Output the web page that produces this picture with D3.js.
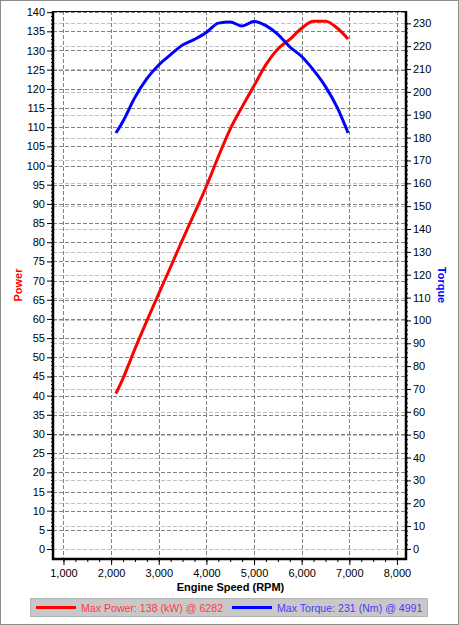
<!DOCTYPE html>
<html><head><meta charset="utf-8">
<script src="https://cdn.jsdelivr.net/npm/d3@7"></script>
<style>
html,body{margin:0;padding:0;background:#fff;}
svg{display:block;}
text{font-family:"Liberation Sans",Arial,sans-serif;}
</style></head>
<body>
<script>
// ---- data ----
const rpm = [2100, 2250, 2500, 2750, 3000, 3250, 3500, 3750, 4000, 4250, 4500, 4750, 5000, 5250, 5500, 5750, 6000, 6250, 6500, 6750, 6975];
const power = [40.5, 44.5, 52.2, 59.5, 66.6, 73.6, 80.7, 87.6, 94.6, 102.3, 109.5, 115.3, 120.8, 126.3, 130.4, 132.9, 135.8, 137.6, 137.6, 135.8, 133.0];
const torque = [182.0, 187.2, 197.6, 205.8, 211.8, 216.3, 220.5, 223.0, 226.0, 230.1, 230.6, 228.8, 230.8, 229.0, 225.2, 219.7, 215.5, 209.5, 202.3, 193.0, 182.0];
const xTicks = [1000, 2000, 3000, 4000, 5000, 6000, 7000, 8000];
const powerTicks = d3.range(0, 141, 5);
const torqueTicks = d3.range(0, 231, 10);
const xTitle = "Engine Speed (RPM)";
const yLeftTitle = "Power";
const yRightTitle = "Torque";
const legendItems = ["Max Power: 138 (kW) @ 6282", "Max Torque: 231 (Nm) @ 4991"];

const W = 459, H = 625;
const L = 53, R = 406, T = 11, B = 559;

const svg = d3.select("body").append("svg").attr("width", W).attr("height", H);
svg.append("rect").attr("x",0.5).attr("y",0.5).attr("width",W-1).attr("height",H-1)
  .attr("fill","#fff").attr("stroke","#8c8c8c");

const x = d3.scaleLinear().domain([780, 8190]).range([L, R]);
const yP = d3.scaleLinear().domain([-2.6, 140.3]).range([B, T]);
const yT = d3.scaleLinear().domain([-4.4, 235.4]).range([B, T]);

const grid = svg.append("g");
// left gridlines (dark)
grid.selectAll("line.gp").data(powerTicks).join("line")
  .attr("x1", L).attr("x2", R).attr("y1", d => Math.round(yP(d))+0.5).attr("y2", d => Math.round(yP(d))+0.5)
  .attr("stroke","#808080").attr("stroke-dasharray","4,2");
// right gridlines (light)
grid.selectAll("line.gt").data(torqueTicks).join("line")
  .attr("x1", L).attr("x2", R).attr("y1", d => Math.round(yT(d))+0.5).attr("y2", d => Math.round(yT(d))+0.5)
  .attr("stroke","#c0c0c0").attr("stroke-dasharray","4,2");
// vertical gridlines
grid.selectAll("line.gx").data(xTicks).join("line")
  .attr("y1", T).attr("y2", B).attr("x1", d => Math.round(x(d))+0.5).attr("x2", d => Math.round(x(d))+0.5)
  .attr("stroke","#808080").attr("stroke-dasharray","4,2");

// curves
const linePow = d3.line().x((d,i) => x(rpm[i])).y(d => yP(d)).curve(d3.curveMonotoneX);
const lineTor = d3.line().x((d,i) => x(rpm[i])).y(d => yT(d)).curve(d3.curveMonotoneX);
svg.append("path").attr("d", linePow(power)).attr("fill","none").attr("stroke","#ff0000").attr("stroke-width",3).attr("stroke-linejoin","round");
svg.append("path").attr("d", lineTor(torque)).attr("fill","none").attr("stroke","#0000ff").attr("stroke-width",3).attr("stroke-linejoin","round");

// frame
svg.append("line").attr("x1",L).attr("x2",R).attr("y1",T+0.5).attr("y2",T+0.5).attr("stroke","#000");

// axes
const fmt = d3.format(",");
const gx = svg.append("g").attr("transform",`translate(0,${B})`)
  .call(d3.axisBottom(x).tickValues(xTicks).tickFormat(fmt).tickSize(6).tickPadding(4));
const gxm = svg.append("g").attr("transform",`translate(0,${B})`)
  .call(d3.axisBottom(x).tickValues(d3.range(1000, 8001, 250)).tickFormat("").tickSize(3));
const gl = svg.append("g").attr("transform",`translate(${L},0)`)
  .call(d3.axisLeft(yP).tickValues(powerTicks).tickSize(6).tickPadding(2));
const glm = svg.append("g").attr("transform",`translate(${L},0)`)
  .call(d3.axisLeft(yP).tickValues(d3.range(0, 141, 1)).tickFormat("").tickSize(2));
const gr = svg.append("g").attr("transform",`translate(${R},0)`)
  .call(d3.axisRight(yT).tickValues(torqueTicks).tickSize(5).tickPadding(2));
const grm = svg.append("g").attr("transform",`translate(${R},0)`)
  .call(d3.axisRight(yT).tickValues(d3.range(0, 231, 2)).tickFormat("").tickSize(2));
[gx,gxm,gl,glm,gr,grm].forEach(g => {
  g.select(".domain").remove();
  g.selectAll("text").attr("font-size",11).attr("fill","#000").attr("font-family","Liberation Sans, Arial, sans-serif");
  g.selectAll("line").attr("stroke","#000");
});
// thick axis lines
svg.append("line").attr("x1",L).attr("x2",L).attr("y1",T).attr("y2",B+1).attr("stroke","#000").attr("stroke-width",2.5);
svg.append("line").attr("x1",R).attr("x2",R).attr("y1",T).attr("y2",B+1).attr("stroke","#000").attr("stroke-width",2.5);
svg.append("line").attr("x1",L-1).attr("x2",R+1).attr("y1",B).attr("y2",B).attr("stroke","#000").attr("stroke-width",2.5);

// titles
svg.append("text").attr("x", (L+R)/2 + 1).attr("y", 591).attr("text-anchor","middle")
  .attr("font-size",11).attr("font-weight","bold").attr("fill","#000").text(xTitle);
svg.append("text").attr("transform","translate(22,285) rotate(-90)").attr("text-anchor","middle")
  .attr("font-size",11).attr("font-weight","bold").attr("fill","#ff0000").text(yLeftTitle);
svg.append("text").attr("transform","translate(438,285) rotate(90)").attr("text-anchor","middle")
  .attr("font-size",11).attr("font-weight","bold").attr("fill","#0000ff").text(yRightTitle);

// legend
const lg = svg.append("g");
lg.append("rect").attr("x",30.5).attr("y",598.5).attr("width",397).attr("height",18)
  .attr("fill","#c8c8c8").attr("stroke","#b4b4b4");
const legColors = ["#ff0000","#0000ff"];
const legText = ["#ff3a4a","#4a3aff"];
const legX = [36, 232];
legendItems.forEach((t,i) => {
  lg.append("line").attr("x1",legX[i]).attr("x2",legX[i]+40).attr("y1",607.5).attr("y2",607.5)
    .attr("stroke",legColors[i]).attr("stroke-width",3);
  lg.append("text").attr("x",legX[i]+45).attr("y",611.5).attr("font-size",10.6).attr("fill",legText[i]).text(t);
});
</script>
</body></html>
